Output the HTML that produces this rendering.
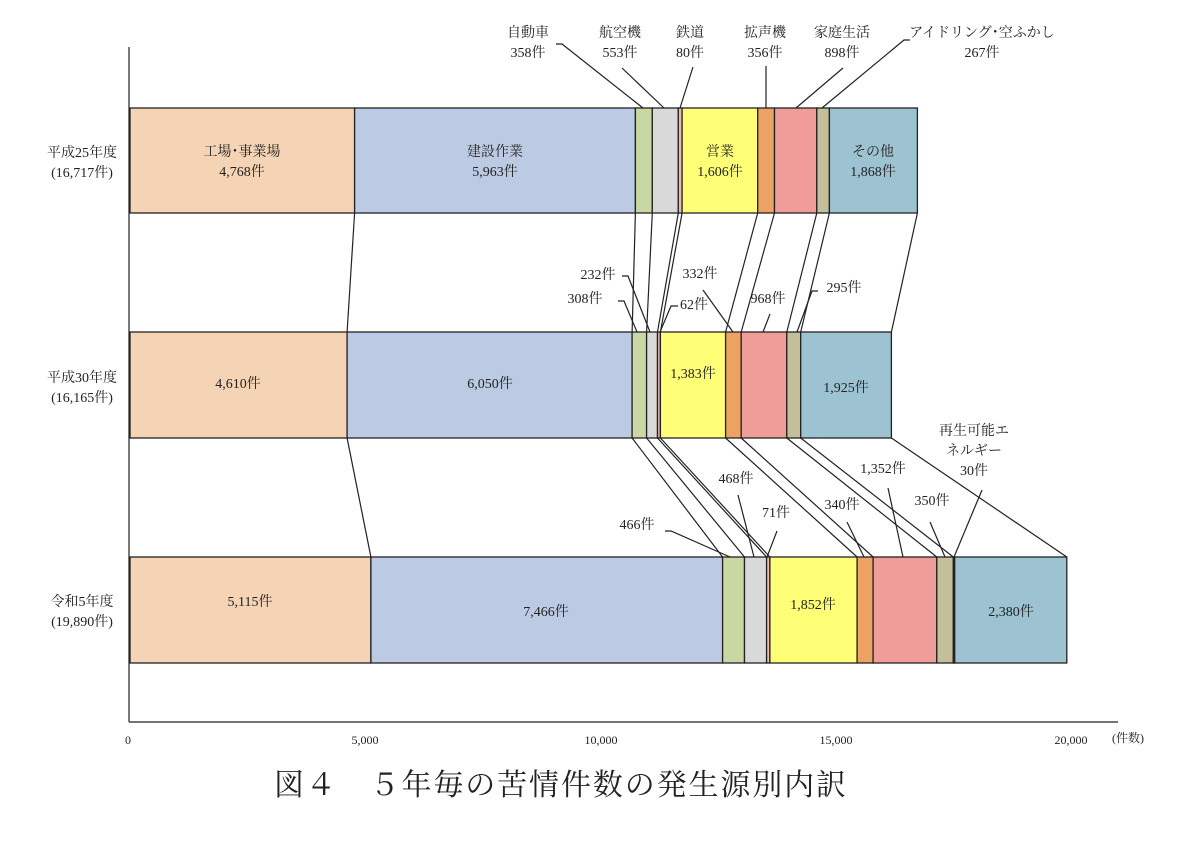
<!DOCTYPE html>
<html><head><meta charset="utf-8"><style>
html,body{margin:0;padding:0;background:#fff;}
svg text{font-family:"Liberation Serif","Noto Serif CJK SC","Noto Serif CJK JP",serif;font-size:14px;fill:#222;}
</style></head><body>
<svg width="1200" height="836" viewBox="0 0 1200 836" xmlns="http://www.w3.org/2000/svg">
<g stroke="#222" stroke-width="1.3">
<!-- Bar 1 -->
<rect x="130" y="108" width="224.6" height="105" fill="#f5d4b5"/>
<rect x="354.6" y="108" width="280.8" height="105" fill="#bccbe3"/>
<rect x="635.4" y="108" width="16.9" height="105" fill="#c9d8a3"/>
<rect x="652.3" y="108" width="26" height="105" fill="#d9d9d9"/>
<rect x="678.3" y="108" width="3.8" height="105" fill="#f4b6b6"/>
<rect x="682.1" y="108" width="75.6" height="105" fill="#ffff77"/>
<rect x="757.7" y="108" width="16.8" height="105" fill="#eba263"/>
<rect x="774.5" y="108" width="42.3" height="105" fill="#f09d9a"/>
<rect x="816.8" y="108" width="12.6" height="105" fill="#c4bf9b"/>
<rect x="829.4" y="108" width="88" height="105" fill="#9dc3d3"/>
<!-- Bar 2 -->
<rect x="130" y="332" width="217.1" height="106" fill="#f5d4b5"/>
<rect x="347.1" y="332" width="285" height="106" fill="#bccbe3"/>
<rect x="632.1" y="332" width="14.5" height="106" fill="#c9d8a3"/>
<rect x="646.6" y="332" width="10.9" height="106" fill="#d9d9d9"/>
<rect x="657.5" y="332" width="2.9" height="106" fill="#f4b6b6"/>
<rect x="660.4" y="332" width="65.2" height="106" fill="#ffff77"/>
<rect x="725.6" y="332" width="15.6" height="106" fill="#eba263"/>
<rect x="741.2" y="332" width="45.6" height="106" fill="#f09d9a"/>
<rect x="786.8" y="332" width="13.9" height="106" fill="#c4bf9b"/>
<rect x="800.7" y="332" width="90.7" height="106" fill="#9dc3d3"/>
<!-- Bar 3 -->
<rect x="130" y="557" width="240.9" height="106" fill="#f5d4b5"/>
<rect x="370.9" y="557" width="351.7" height="106" fill="#bccbe3"/>
<rect x="722.6" y="557" width="21.9" height="106" fill="#c9d8a3"/>
<rect x="744.5" y="557" width="22.1" height="106" fill="#d9d9d9"/>
<rect x="766.6" y="557" width="3.3" height="106" fill="#f4b6b6"/>
<rect x="769.9" y="557" width="87.2" height="106" fill="#ffff77"/>
<rect x="857.1" y="557" width="16" height="106" fill="#eba263"/>
<rect x="873.1" y="557" width="63.7" height="106" fill="#f09d9a"/>
<rect x="936.8" y="557" width="16.5" height="106" fill="#c4bf9b"/>
<rect x="953.3" y="557" width="1.4" height="106" fill="#555"/>
<rect x="954.7" y="557" width="112.1" height="106" fill="#9dc3d3"/>
</g>
<g stroke="#222" stroke-width="1.2" fill="none">
<!-- connectors 1->2 -->
<line x1="354.6" y1="213" x2="347.1" y2="332"/>
<line x1="635.4" y1="213" x2="632.1" y2="332"/>
<line x1="652.3" y1="213" x2="646.6" y2="332"/>
<line x1="678.3" y1="213" x2="657.5" y2="332"/>
<line x1="682.1" y1="213" x2="660.4" y2="332"/>
<line x1="757.7" y1="213" x2="725.6" y2="332"/>
<line x1="774.5" y1="213" x2="741.2" y2="332"/>
<line x1="816.8" y1="213" x2="786.8" y2="332"/>
<line x1="829.4" y1="213" x2="800.7" y2="332"/>
<line x1="917.4" y1="213" x2="891.4" y2="332"/>
<!-- connectors 2->3 -->
<line x1="347.1" y1="438" x2="370.9" y2="557"/>
<line x1="632.1" y1="438" x2="722.6" y2="557"/>
<line x1="646.6" y1="438" x2="744.5" y2="557"/>
<line x1="657.5" y1="438" x2="766.6" y2="557"/>
<line x1="660.4" y1="438" x2="769.9" y2="557"/>
<line x1="725.6" y1="438" x2="857.1" y2="557"/>
<line x1="741.2" y1="438" x2="873.1" y2="557"/>
<line x1="786.8" y1="438" x2="936.8" y2="557"/>
<line x1="800.7" y1="438" x2="953.3" y2="557"/>
<line x1="891.4" y1="438" x2="1066.8" y2="557"/>
<!-- leaders top -->
<polyline points="556,44 562,44 643,108"/>
<line x1="622" y1="68" x2="664" y2="108"/>
<line x1="693" y1="67" x2="680" y2="108"/>
<line x1="766" y1="66" x2="766" y2="108"/>
<line x1="843" y1="68" x2="796" y2="108"/>
<polyline points="910,40 904,40 822,108"/>
<!-- leaders middle -->
<polyline points="622,276 628,276 650,332"/>
<polyline points="618,301 624,301 637,332"/>
<polyline points="678,306 671,306 660,332"/>
<line x1="703" y1="290" x2="733" y2="332"/>
<line x1="770" y1="314" x2="763" y2="332"/>
<polyline points="818,291 812,291 797,332"/>
<!-- leaders bottom -->
<polyline points="665,531 671,531 730,557"/>
<line x1="738" y1="495" x2="754" y2="557"/>
<line x1="777" y1="531" x2="767" y2="557"/>
<line x1="847" y1="522" x2="864" y2="557"/>
<line x1="888" y1="488" x2="903" y2="557"/>
<line x1="930" y1="522" x2="945" y2="557"/>
<line x1="982" y1="490" x2="954" y2="557"/>
<!-- axes -->
<line x1="129" y1="47" x2="129" y2="722"/>
<line x1="129" y1="722" x2="1118" y2="722"/>
</g>
<!-- bar labels -->
<g text-anchor="middle">
<text x="242" y="156">工場･事業場</text><text x="242" y="176">4,768件</text>
<text x="495" y="156">建設作業</text><text x="495" y="176">5,963件</text>
<text x="720" y="156">営業</text><text x="720" y="176">1,606件</text>
<text x="873" y="156">その他</text><text x="873" y="176">1,868件</text>
<text x="238" y="388">4,610件</text>
<text x="490" y="388">6,050件</text>
<text x="693" y="378">1,383件</text>
<text x="846" y="392">1,925件</text>
<text x="250" y="606">5,115件</text>
<text x="546" y="616">7,466件</text>
<text x="813" y="609">1,852件</text>
<text x="1011" y="616">2,380件</text>
<!-- row labels -->
<text x="82" y="157">平成25年度</text><text x="82" y="177">(16,717件)</text>
<text x="82" y="382">平成30年度</text><text x="82" y="402">(16,165件)</text>
<text x="82" y="606">令和5年度</text><text x="82" y="626">(19,890件)</text>
<!-- top labels -->
<text x="528" y="37">自動車</text><text x="528" y="57">358件</text>
<text x="620" y="37">航空機</text><text x="620" y="57">553件</text>
<text x="690" y="37">鉄道</text><text x="690" y="57">80件</text>
<text x="765" y="37">拡声機</text><text x="765" y="57">356件</text>
<text x="842" y="37">家庭生活</text><text x="842" y="57">898件</text>
<text x="982" y="37">アイドリング･空ふかし</text><text x="982" y="57">267件</text>
<!-- middle -->
<text x="598" y="279">232件</text>
<text x="585" y="303">308件</text>
<text x="694" y="309">62件</text>
<text x="700" y="278">332件</text>
<text x="768" y="303">968件</text>
<text x="844" y="292">295件</text>
<!-- bottom -->
<text x="637" y="529">466件</text>
<text x="736" y="483">468件</text>
<text x="776" y="517">71件</text>
<text x="842" y="509">340件</text>
<text x="883" y="473">1,352件</text>
<text x="932" y="505">350件</text>
<text x="974" y="435">再生可能エ</text><text x="974" y="455">ネルギー</text><text x="974" y="475">30件</text>
<!-- axis ticks -->
<text x="128" y="744" font-size="12" style="font-size:12px">0</text>
<text x="365" y="744" style="font-size:12px">5,000</text>
<text x="601" y="744" style="font-size:12px">10,000</text>
<text x="836" y="744" style="font-size:12px">15,000</text>
<text x="1071" y="744" style="font-size:12px">20,000</text>
<text x="1128" y="742" style="font-size:12px">(件数)</text>
</g>
<text x="274" y="795" style="font-size:30px" textLength="572">図４　５年毎の苦情件数の発生源別内訳</text>
</svg>
</body></html>
